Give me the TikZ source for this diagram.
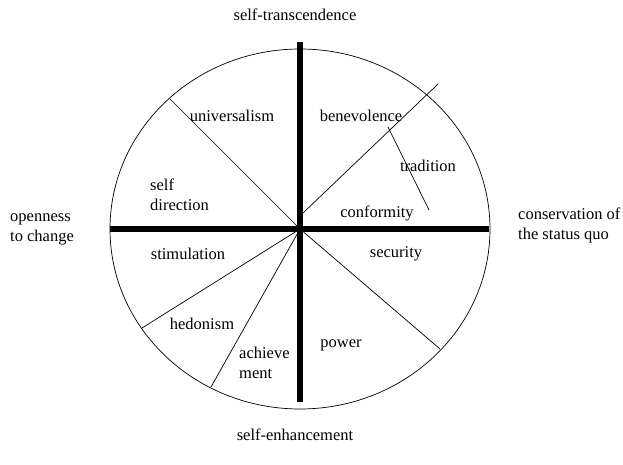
\documentclass[tikz,border=0pt]{standalone}
\usepackage{fontspec}
\setmainfont{Liberation Serif}
\begin{document}
\begin{tikzpicture}[x=1pt, y=-1pt,
    lbl/.style={inner sep=0pt, align=left, font=\fontsize{16.5}{20}\selectfont},
    axis/.style={line width=5.5pt},
    rim/.style={line width=0.7pt},
    spoke/.style={line width=0.7pt}]
  \useasboundingbox (0,0) rectangle (623,465);
  % circle and the two axes
  \coordinate (O) at (300,229);
  \draw[rim] (O) ellipse [x radius=190pt, y radius=180pt];
  \coordinate (axT) at (300,42);
  \coordinate (axB) at (300,402);
  \coordinate (axL) at (110,229);
  \coordinate (axR) at (489,229);
  \draw[axis] (axT) -- (axB);
  \draw[axis] (axL) -- (axR);
  % spokes
  \coordinate (sUni) at (170,99);
  \coordinate (sStim) at (142,328);
  \coordinate (sHed) at (211,387);
  \coordinate (sSec) at (440,349);
  \foreach \q in {sUni,sStim,sHed,sSec} \draw[spoke] (O) -- (\q);
  \coordinate (bA) at (303,213);
  \coordinate (bB) at (438,84);
  \coordinate (tA) at (388,127);
  \coordinate (tB) at (429,210);
  \draw[spoke] (bA) -- (bB);
  \draw[spoke] (tA) -- (tB);
  % values
  \node[lbl] (uni) at (232,116) {universalism};
  \node[lbl] (ben) at (361,116) {benevolence};
  \node[lbl] (tra) at (428,166) {tradition};
  \node[lbl, anchor=west] (sdir) at (150,195) {self\\direction};
  \node[lbl] (con) at (377,213) {conformity};
  \node[lbl] (stim) at (188,254) {stimulation};
  \node[lbl] (sec) at (396,254) {security};
  \node[lbl] (hed) at (202,324) {hedonism};
  \node[lbl, anchor=west] (ach) at (239,363) {achieve\\ment};
  \node[lbl] (pow) at (341,345) {power};
  % poles
  \node[lbl] (trans) at (295,15) {self-transcendence};
  \node[lbl] (enh) at (295,435) {self-enhancement};
  \node[lbl, anchor=west] (open) at (10,229) {openness\\to change};
  \node[lbl, anchor=west] (cons) at (518,225) {conservation of\\the status quo};
\end{tikzpicture}
\end{document}
